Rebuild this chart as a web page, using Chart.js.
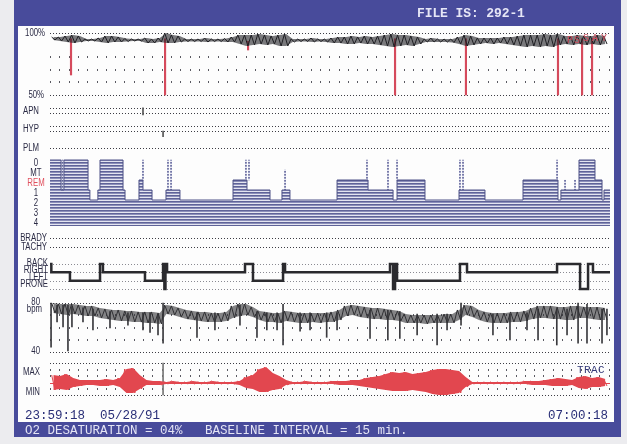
<!DOCTYPE html>
<html><head><meta charset="utf-8">
<script src="https://cdn.jsdelivr.net/npm/chart.js@4.4.1/dist/chart.umd.min.js"></script>
<style>html,body{margin:0;padding:0;background:#ececef;}canvas{display:block;}</style>
</head><body>
<canvas id="c" width="627" height="444"></canvas>
<script>
// ---------------- DATA (minutes after 23:59:18) ----------------
const T_MAX = 421;
const BIN_MIN = 5;           // width of each summary bin (min)
const GRID_MIN = 7;          // spacing of the dotted grid marks (min)

// SpO2 (%) per 5-min bin: low / high of the trace
const spo2Lo = [94.0,93.2,92.4,91.6,92.4,93.2,93.2,92.4,91.6,92.4, 92.4,92.8,93.2,93.2,91.6,91.6,92.4,91.6,91.6,92.4, 92.8,92.8,92.8,92.4,92.8,92.8,92.4,92.4,90.8,89.2, 90.0,90.8,90.0,90.8,89.2,89.2,92.4,92.8,92.8,92.4, 92.8,92.4,91.6,91.6,90.8,90.8,91.6,90.8,90.8,90.0, 89.2,88.4,89.2,90.0,89.2,90.8,92.4,92.4,92.4,92.4, 92.0,90.8,89.2,90.0,90.8,91.6,90.8,91.6,90.8,90.0, 89.2,88.4,89.2,88.4,89.2,88.4,90.0,90.8,90.0,90.8, 90.0,90.8,90.0,90.8];
const spo2Hi = [96.4,96.4,97.2,98.0,97.2,94.8,94.8,95.6,97.2,97.2, 96.4,95.2,94.8,94.8,95.6,94.8,95.6,99.6,98.0,97.2, 94.8,94.8,94.8,95.6,94.8,94.8,95.2,96.4,98.0,98.0, 98.0,98.8,98.0,97.2,98.0,98.8,94.8,94.8,94.8,95.6, 94.8,94.8,95.6,96.4,96.4,97.2,96.4,97.2,96.4,97.2, 98.0,98.8,98.0,98.0,97.2,96.4,94.8,95.6,94.8,94.8, 94.8,96.4,98.0,97.2,95.6,95.6,95.6,95.6,96.4,96.4, 97.2,98.0,98.0,98.0,98.8,98.0,98.8,97.2,97.2,98.0, 97.2,97.2,98.0,97.2];
// desaturation events (red drops)
const desatT  = [15.8, 86.5, 148.9, 259.4, 312.7, 381.9, 400, 407.5];
const desatLo = [66, 50, 86, 50, 50, 50, 50, 50];
const desatHi = [95, 95, 93, 95, 95, 95, 95, 95];

// APN / HYP event marks (row 0 = APN, row 1 = HYP)
const evtT = [69.9, 85];
const evtFrom = [-0.15, 1.15];
const evtTo = [0.25, 1.45];

// Hypnogram: 0=wake 1=MT 2=REM 3=stage1 4=stage2 5=stage3 6=stage4
const stageLabels = ['0','MT','REM','1','2','3','4'];
const stageT = [0,8.3,10.5,28.6,30,36,37.6,54.9,56.4,66.9,69.9,76.7,87.2,97.7,137.6,148.1,165.4,174.4,180.4,215.8,239.1,257.9,260.9,281.9,307.5,327,355.6,381.9,384.1,397.7,409.7,415,416.5,421];
const stageV = [0,3,0,3,4,3,0,3,4,2,3,4,3,4,2,3,4,3,4,2,3,4,2,4,3,4,2,4,3,0,2,4,3,3];
// brief arousals (dashed vertical marks)
const wakeTickT    = [9.4, 69.9, 88.7, 91, 147.3, 149.6, 176.7, 238.3, 254.1, 260.9, 308.2, 310.5, 381.2, 387.2, 394.7];
const wakeTickFrom = [0,0,0,0,0,0,1,0,0,0,0,0,0,2,2];
const wakeTickTo   = [3,2,3,3,2,2,3,2,3,2,3,3,2,3,3];

// Body position: 0=BACK 1=RIGHT 2=LEFT 3=PRONE
const posLabels = ['BACK','RIGHT','LEFT','PRONE'];
const posT = [0,1,15,37.6,39.8,71.4,85,86,86.8,88,146.6,152.6,175.2,176.7,255.6,257.9,259.4,260.9,308.2,313.5,381.2,398.5,404.5,408.2,421];
const posV = [0,1,2,0,1,2,0,3,0,1,0,2,0,1,0,3,0,2,0,1,0,3,0,1,1];

// Heart rate (bpm) per 5-min bin
const hrLo = [71.8,71.0,70.2,71.0,70.2,69.4,69.4,67.8,66.9,66.1, 65.3,65.3,64.5,64.5,63.7,63.7,62.9,71.0,70.2,68.6, 66.9,66.1,65.3,64.5,64.5,64.5,65.3,67.8,69.4,70.2, 68.6,66.1,64.5,64.5,63.7,65.3,64.5,63.7,63.7,64.5, 63.7,64.5,64.5,66.1,69.4,70.2,68.6,67.8,66.9,66.9, 66.1,66.1,65.3,63.7,63.7,63.7,62.9,63.7,63.7,63.7, 63.7,66.1,70.2,68.6,66.1,64.5,63.7,63.7,63.7,64.5, 64.5,65.3,66.9,67.8,67.8,66.9,66.9,66.1,66.1,67.8, 67.8,66.9,66.1,66.1];
const hrHi = [80.0,79.2,79.2,79.2,78.4,77.6,77.6,75.9,75.1,74.3, 74.3,73.5,73.5,72.7,72.7,72.7,71.8,78.4,77.6,75.9, 74.3,73.5,72.7,72.7,71.8,71.8,72.7,77.6,79.2,79.2, 76.7,73.5,72.7,71.8,71.8,73.5,72.7,71.8,71.8,71.8, 71.8,71.8,72.7,74.3,77.6,78.4,77.6,76.7,75.9,75.9, 75.1,74.3,73.5,71.0,70.2,70.2,70.2,70.2,70.2,71.0, 71.0,74.3,78.4,77.6,74.3,72.7,71.8,71.8,71.8,72.7, 72.7,73.5,75.9,77.6,77.6,77.6,76.7,76.7,77.6,77.6, 76.7,76.7,76.7,75.9];
const hrSpikeT  = [0.8,5.3,9.8,13.5,16.5,24.8,32.3,45.1,58.6,69.9,75.2,81.2,85,110.5,124,142.8,155.6,163,170.7,175.2,188,195.5,208,215.8,240.6,254,263,276,291,298.5,309,333,345.8,358.6,366.9,381,388.7,397,403.7,415,418.7];
const hrSpikeLo = [44,64.5,60.4,40.8,60.4,64.5,58,59.6,62,58,56,54,47.3,52,58,62,52,58,58,45.7,57,58,52,58,51,49.8,51,54,45.7,58,62,54,49.8,58,49.8,45.7,54,47.3,47.3,47.3,54];
const hrSpikeHi = [80,78,78,78.4,77,76,75,73,72,72,72,71,80,72,72,78,73,72,72,79,72,72,72,72,74,74,73,71,71,71,80,71,71,72,75,75,75,80,79,75,75];

// Snoring (tracheal sound) amplitude per 5-min bin, above / below baseline
const snoreUp   = [8,7,9,5,3,3,3,3,4,3, 5,14,15,8,3,2,2,1,2,1, 1,2,1,1,2,1,1,1,2,6, 8,14,16,10,7,3,1,1,2,1, 1,1,2,2,2,3,3,5,6,7, 9,11,10,11,9,10,11,13,14,14, 13,12,6,1,1,1,1,1,1,1, 1,2,2,2,3,4,5,4,3,6, 7,5,6,4];
const snoreDown = [7,6,7,4,3,2,2,3,3,2, 4,10,10,6,2,2,2,1,1,1, 1,1,1,1,1,1,1,1,2,5, 6,9,9,7,6,2,1,1,1,1, 1,1,1,2,2,2,3,4,5,6, 7,8,8,8,7,8,9,11,12,12, 11,10,4,1,1,1,1,1,1,1, 1,1,2,2,2,3,3,3,2,5, 6,4,4,3];
const markerT = [85];

const headerText = 'FILE IS: 292-1';
const startText = '23:59:18  05/28/91';
const endText = '07:00:18';
const footerText = 'O2 DESATURATION = 04%   BASELINE INTERVAL = 15 min.';

// ---------------- LAYOUT ----------------
const CW = 627, CH = 444;
const AREA = {left:50, right:610, top:26, bottom:406};
function band(v1, p1, v2, p2){
  const H = AREA.bottom - AREA.top;
  if (v1 > v2){ const ppu=(p2-p1)/(v1-v2); const max=v1+(p1-AREA.top)/ppu; return {min:max-H/ppu, max, reverse:false}; }
  const ppu=(p2-p1)/(v2-v1); const min=v1-(p1-AREA.top)/ppu; return {min, max:min+H/ppu, reverse:true};
}
function yAxis(b){ return Object.assign({type:'linear', display:false, bounds:'data', beginAtZero:false, grid:{display:false}}, b); }

const ctx0 = document.getElementById('c').getContext('2d');
function stripePattern(){
  const p = document.createElement('canvas'); p.width = 4; p.height = 3;
  const g = p.getContext('2d');
  g.fillStyle = '#e4e5f0'; g.fillRect(0,0,4,3);
  g.fillStyle = '#5f6398'; g.fillRect(0,0,4,1);
  g.fillStyle = '#8c8fba'; g.fillRect(0,1,4,1);
  return ctx0.createPattern(p, 'repeat');
}
const stripes = stripePattern();

const binT = spo2Lo.map((_, i) => i*BIN_MIN + BIN_MIN/2);
const pts = (ts, a, b) => ts.map((t, i) => ({x:t, y: b ? [a[i], b[i]] : a[i]}));
// trace that swings between each bin's high and low (draws the envelope as a jagged trace)
const zig = (hi, lo) => binT.flatMap((t, i) => [{x:t - BIN_MIN/4, y:hi[i]}, {x:t + BIN_MIN/4, y:lo[i]}]);
const neg = a => a.map(v => -v);
const barBase = {type:'bar', grouped:false, borderWidth:0, xAxisID:'x'};
const lineBase = {type:'line', xAxisID:'x', pointRadius:0, tension:0};

const datasets = [
  Object.assign({}, lineBase, {yAxisID:'yStage', data: pts(stageT, stageV), stepped:true,
    fill:{value:6.6}, backgroundColor: stripes, borderColor:'#4c5086', borderWidth:1}),
  Object.assign({}, barBase, {yAxisID:'yStage', data: pts(wakeTickT, wakeTickFrom, wakeTickTo), backgroundColor: stripes, barThickness:1}),
  Object.assign({}, lineBase, {yAxisID:'yPos', data: pts(posT, posV), stepped:true, fill:false,
    borderColor:'#2a2a2e', borderWidth:2.5}),
  // SpO2: envelope + jagged trace
  Object.assign({}, lineBase, {yAxisID:'ySpo2', data: pts(binT, spo2Hi), fill:'+1', backgroundColor:'rgba(34,34,38,0.6)', borderWidth:0}),
  Object.assign({}, lineBase, {yAxisID:'ySpo2', data: pts(binT, spo2Lo), fill:false, borderWidth:0}),
  Object.assign({}, lineBase, {yAxisID:'ySpo2', data: zig(spo2Hi, spo2Lo), fill:false, borderColor:'#1c1c20', borderWidth:1}),
  Object.assign({}, barBase, {yAxisID:'ySpo2', data: pts(desatT, desatLo, desatHi), backgroundColor:'#d54a5c', barThickness:1.5}),
  Object.assign({}, barBase, {yAxisID:'yEvt', data: pts(evtT, evtFrom, evtTo), backgroundColor:'#555', barThickness:1}),
  // heart rate: envelope + jagged trace + dropouts
  Object.assign({}, lineBase, {yAxisID:'yHR', data: pts(binT, hrHi), fill:'+1', backgroundColor:'rgba(50,50,54,0.6)', borderWidth:0}),
  Object.assign({}, lineBase, {yAxisID:'yHR', data: pts(binT, hrLo), fill:false, borderWidth:0}),
  Object.assign({}, lineBase, {yAxisID:'yHR', data: zig(hrHi, hrLo), fill:false, borderColor:'#2e2e32', borderWidth:1}),
  Object.assign({}, barBase, {yAxisID:'yHR', data: pts(hrSpikeT, hrSpikeLo, hrSpikeHi), backgroundColor:'#3a3a3e', barThickness:1}),
  // snoring: filled envelope + jagged edge
  Object.assign({}, lineBase, {yAxisID:'ySnore', data: pts(binT, snoreUp), fill:'+1', backgroundColor:'#e2474f', borderWidth:0}),
  Object.assign({}, lineBase, {yAxisID:'ySnore', data: pts(binT, neg(snoreDown)), fill:false, borderWidth:0}),
  Object.assign({}, lineBase, {yAxisID:'ySnore', data: zig(snoreUp, neg(snoreDown)), fill:false, borderColor:'#e2474f', borderWidth:1}),
  Object.assign({}, barBase, {yAxisID:'ySnore', data: markerT.map(t=>({x:t, y:[-12, 20]})), backgroundColor:'#777', barThickness:1})
];

// ---------------- DRAW HELPERS ----------------
function hline(c, y, color, dash){
  c.save(); c.strokeStyle=color; c.lineWidth=1; c.setLineDash(dash);
  c.beginPath(); c.moveTo(AREA.left, Math.round(y)+0.5); c.lineTo(AREA.right, Math.round(y)+0.5); c.stroke(); c.restore();
}
function sparse(c, xs, y, color){
  c.fillStyle = color;
  for (let t = 0; t <= T_MAX; t += GRID_MIN){ c.fillRect(Math.round(xs.getPixelForValue(t)), Math.round(y)-1, 1, 2); }
}
function lab(c, txt, x, y, align, color){
  c.save(); c.fillStyle = color || '#2b2b45'; c.font = '10px "Liberation Sans", Arial, sans-serif';
  c.textBaseline = 'middle'; c.textAlign = align; c.translate(x, y); c.scale(0.78, 1); c.fillText(txt, 0, 0); c.restore();
}
function mono(c, txt, x, y, pitch, font, color){
  c.save(); c.font = font; c.fillStyle = color; c.textBaseline = 'middle'; c.textAlign = 'left';
  for (let i = 0; i < txt.length; i++) c.fillText(txt[i], x + i*pitch, y);
  c.restore();
}

const deco = {
  id:'deco',
  beforeDraw(chart){
    const c = chart.ctx, s = chart.scales;
    c.save();
    c.fillStyle = '#ececef'; c.fillRect(0,0,CW,CH);
    c.fillStyle = '#484b9b'; c.fillRect(14,0,607,437);
    c.fillStyle = '#fdfdfd'; c.fillRect(18,26,596,396);
    const dense = '#3c3c44', light = '#8a8a92', dot = '#5a5a62';
    hline(c, s.ySpo2.getPixelForValue(100), dense, [1,2]);
    hline(c, s.ySpo2.getPixelForValue(50), dense, [1,2]);
    [80,70,60].forEach(v => sparse(c, s.x, s.ySpo2.getPixelForValue(v), dot));
    [108,113,126,131,148,238,247].forEach(y => hline(c, y, dense, [1,2]));
    [0,1,2,3].forEach(v => hline(c, s.yPos.getPixelForValue(v), light, [1,2]));
    hline(c, s.yHR.getPixelForValue(80), dense, [1,2]);
    hline(c, s.yHR.getPixelForValue(40), dense, [1,2]);
    [70,60,50].forEach(v => sparse(c, s.x, s.yHR.getPixelForValue(v), dot));
    hline(c, s.ySnore.getPixelForValue(20), dense, [1,2]);
    hline(c, s.ySnore.getPixelForValue(-12), dense, [1,2]);
    [13,7,-6].forEach(v => sparse(c, s.x, s.ySnore.getPixelForValue(v), dot));
    c.fillStyle = '#e0474f';
    c.fillRect(AREA.left, Math.round(s.ySnore.getPixelForValue(0)), AREA.right-AREA.left, 1);
    c.restore();
  },
  afterDraw(chart){
    const c = chart.ctx, s = chart.scales;
    const L = '#2b2b45';
    lab(c, '100%', 45, s.ySpo2.getPixelForValue(100)+0.5, 'right');
    lab(c, '50%', 44, s.ySpo2.getPixelForValue(50), 'right');
    lab(c, 'APN', 39, 111, 'right');
    lab(c, 'HYP', 39, 129, 'right');
    lab(c, 'PLM', 39, 148, 'right');
    stageLabels.forEach((t, i) => lab(c, t, 36, s.yStage.getPixelForValue(i)+3, 'center', t === 'REM' ? '#e0505e' : L));
    lab(c, 'BRADY', 47, 238, 'right');
    lab(c, 'TACHY', 47, 247, 'right');
    posLabels.forEach((t, i) => lab(c, t, 48, s.yPos.getPixelForValue(i) - 1 - i*1.2, 'right'));
    lab(c, '80', 40, s.yHR.getPixelForValue(80)-1, 'right');
    lab(c, 'bpm', 42, s.yHR.getPixelForValue(80)+6, 'right');
    lab(c, '40', 40, s.yHR.getPixelForValue(40)-1, 'right');
    lab(c, 'MAX', 40, s.ySnore.getPixelForValue(11), 'right');
    lab(c, 'MIN', 40, s.ySnore.getPixelForValue(-9), 'right');
    mono(c, 'PS', 567, 40, 7, '10px "Liberation Mono", monospace', '#cf4a5a');
    mono(c, 'SAY', 583, 38, 9, '10px "Liberation Mono", monospace', '#cf4a5a');
    mono(c, 'TRAC', 577, 370, 7, '11px "Liberation Mono", monospace', '#353a78');
    mono(c, headerText, 417, 14, 7.7, 'bold 13px "Liberation Mono", monospace', '#e6e6f6');
    mono(c, startText, 25, 416, 7.5, '12.5px "Liberation Mono", monospace', '#2a2f78');
    mono(c, endText, 548, 416, 7.5, '12.5px "Liberation Mono", monospace', '#2a2f78');
    mono(c, footerText, 25, 431, 7.5, '12.5px "Liberation Mono", monospace', '#e4e4f4');
  }
};

new Chart(document.getElementById('c'), {
  type:'bar',
  data:{datasets},
  options:{
    responsive:false, animation:false, events:[],
    layout:{padding:{left:AREA.left, right:CW-AREA.right, top:AREA.top, bottom:CH-AREA.bottom}},
    plugins:{legend:{display:false}, tooltip:{enabled:false}},
    scales:{
      x:{type:'linear', min:0, max:T_MAX, offset:false, bounds:'data', display:false, grid:{display:false}},
      ySpo2: yAxis(band(100, 32.5, 50, 95)),
      yEvt: yAxis(band(0, 110.5, 1, 128.5)),
      yStage: yAxis(band(0, 160, 6, 220)),
      yPos: yAxis(band(0, 264, 3, 289)),
      yHR: yAxis(band(80, 303, 40, 352)),
      ySnore: yAxis(band(20, 363, -12, 395))
    }
  },
  plugins:[deco]
});
</script>
</body></html>
